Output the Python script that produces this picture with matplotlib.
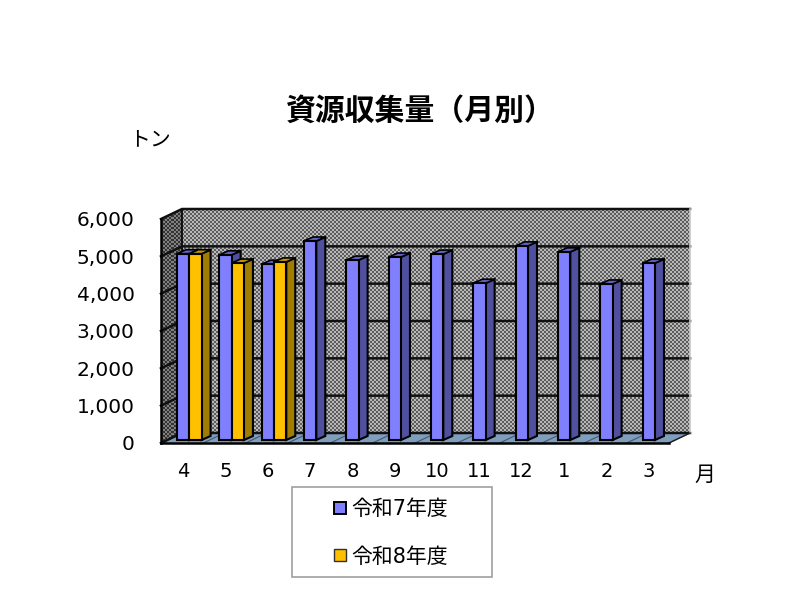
import numpy as np
import matplotlib
matplotlib.use("Agg")
import matplotlib.pyplot as plt
from matplotlib.patches import Polygon, Rectangle
from matplotlib.lines import Line2D

plt.rcParams["font.family"] = ["DejaVu Sans", "Noto Sans CJK JP"]

months = ["4", "5", "6", "7", "8", "9", "10", "11", "12", "1", "2", "3"]
r7_values = [4990, 4960, 4710, 5330, 4820, 4900, 4980, 4200, 5200, 5040, 4180, 4740]
r8_values = [4990, 4740, 4770]
yticks = [0, 1000, 2000, 3000, 4000, 5000, 6000]
title = "資源収集量（月別）"
r7_label = "令和7年度"
r8_label = "令和8年度"

W, H = 800, 593
# front plane of the fake 3d box, in pixels
left, right, bottom, top = 161, 669, 443, 219
px_x = 12 / (right - left)
px_y = 6000 / (bottom - top)

# depth of the walls and the bars
wall_dx, wall_dy = 21 * px_x, 10 * px_y
bar_dx, bar_dy = 9 * px_x, 4 * px_y
bar_off, bar_base = 16 * px_x, 3 * px_y
bar_w = 12.3 * px_x


def dither(w, h, lo, hi):
    yy, xx = np.indices((h // 2, w // 2))
    return np.where((xx + yy) % 2 == 0, lo, hi)


def box_bar(ax, x, val, front, side, topc, z):
    y1 = bar_base + val
    ax.fill([x + bar_w, x + bar_w + bar_dx, x + bar_w + bar_dx, x + bar_w],
            [bar_base, bar_base + bar_dy, y1 + bar_dy, y1],
            fc=side, ec="black", lw=1.5, zorder=z, clip_on=False)
    ax.fill([x, x + bar_dx, x + bar_w + bar_dx, x + bar_w],
            [y1, y1 + bar_dy, y1 + bar_dy, y1],
            fc=topc, ec="black", lw=1.2, zorder=z, clip_on=False)
    ax.bar(x, val, bar_w, bottom=bar_base, align="edge", color=front,
           edgecolor="black", linewidth=1.5, zorder=z, clip_on=False)


fig = plt.figure(figsize=(W / 100, H / 100), dpi=100)
ax = fig.add_axes([left / W, 1 - bottom / H, (right - left) / W, (bottom - top) / H])
ax.set_xlim(0, 12)
ax.set_ylim(0, 6000)

# back wall
ax.imshow(dither(509, 224, 0.36, 0.72), cmap="gray", vmin=0, vmax=1, aspect="auto",
          interpolation="nearest", zorder=1, clip_on=False,
          extent=(wall_dx, 12 + wall_dx, wall_dy, 6000 + wall_dy))

# left wall, the image has to reach above the axes box
im = ax.imshow(dither(21, 234, 0.2, 0.5), cmap="gray", vmin=0, vmax=1, aspect="auto",
               interpolation="nearest", zorder=1,
               extent=(0, wall_dx, 0, 6000 + wall_dy))
im.set_clip_box(fig.bbox)
im.set_clip_path(Polygon([(0, 0), (wall_dx, wall_dy), (wall_dx, 6000 + wall_dy), (0, 6000)],
                         transform=ax.transData))
ax.set_xlim(0, 12)
ax.set_ylim(0, 6000)

# floor
ax.add_patch(Polygon([(0, 0), (12, 0), (12 + wall_dx, wall_dy), (wall_dx, wall_dy)],
                     fc="#7f9dbd", ec="none", zorder=2, clip_on=False))
for i in range(1, 13):
    ax.plot([i, i + wall_dx], [0, wall_dy], color="#44586e", lw=0.8, zorder=2, clip_on=False)

# grid on the walls
for t in yticks:
    ax.plot([0, wall_dx, 12 + wall_dx], [t, t + wall_dy, t + wall_dy],
            color="#101010", lw=1.8, zorder=3, clip_on=False, solid_joinstyle="miter")
ax.plot([wall_dx, wall_dx], [wall_dy, 6000 + wall_dy], color="#101010", lw=1.4, zorder=3,
        clip_on=False)
ax.plot([12 + wall_dx] * 2, [wall_dy, 6000 + wall_dy], color="#c8c8c8", lw=1.2, zorder=3,
        clip_on=False)
ax.plot([12, 12 + wall_dx], [0, wall_dy], color="#202020", lw=1.0, zorder=3, clip_on=False)

# bars
for i, v in enumerate(r7_values):
    box_bar(ax, i + bar_off, v, "#8080ff", "#5050a0", "#6060c0", 4)
for i, v in enumerate(r8_values):
    box_bar(ax, i + bar_off + bar_w, v, "#ffc000", "#a07c00", "#c09400", 5)

for s in ["top", "right"]:
    ax.spines[s].set_visible(False)
for s in ["left", "bottom"]:
    ax.spines[s].set_linewidth(1.8)
    ax.spines[s].set_zorder(6)

ax.set_xticks(np.arange(12) + 0.52, months)
ax.set_yticks(yticks, [f"{t:,}" for t in yticks])
ax.tick_params(axis="x", length=0, labelsize=14, pad=14)
ax.tick_params(axis="y", length=0, labelsize=14.5, pad=19)

fig.text(420 / W, 1 - 111 / H, title, fontsize=21.5, fontweight="bold", ha="center", va="center")
fig.text(150 / W, 1 - 139 / H, "トン", fontsize=15, ha="center", va="center")
fig.text(705 / W, 1 - 475 / H, "月", fontsize=15, ha="center", va="center")

# legend box
fig.add_artist(Rectangle((292 / W, 1 - 577 / H), 200 / W, 90 / H, transform=fig.transFigure,
                         fc="white", ec="#a0a0a0", lw=1.2))
handles = [
    Line2D([], [], ls="none", marker="s", ms=8, mfc="#8080ff", mec="black", mew=1.4),
    Line2D([], [], ls="none", marker="s", ms=8, mfc="#ffc000", mec="#303030", mew=1.0),
]
leg = fig.legend(handles, [r7_label, r8_label], loc="center", frameon=False,
                 bbox_to_anchor=(388 / W, 1 - 533 / H), fontsize=15,
                 labelspacing=1.3, handletextpad=0.0, handlelength=1.1)

fig.savefig("out.png", dpi=100)
